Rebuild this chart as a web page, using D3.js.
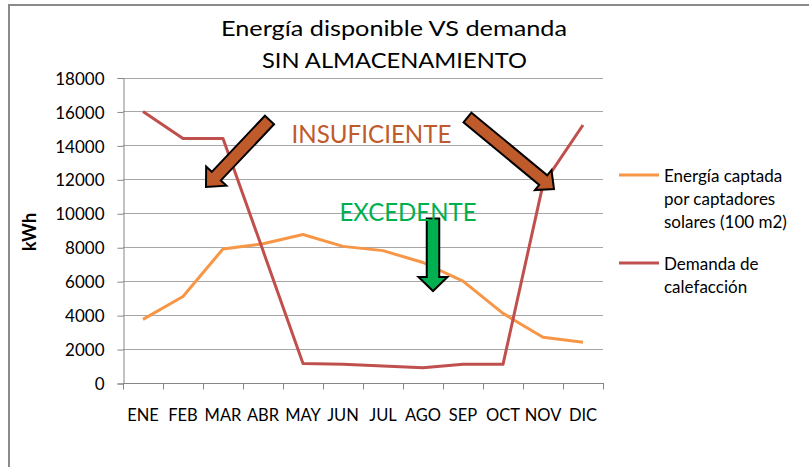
<!DOCTYPE html>
<html>
<head>
<meta charset="utf-8">
<script src="https://cdn.jsdelivr.net/npm/d3@7"></script>
<style>
  body { margin: 0; background: #fff; }
  svg text { font-family: Lato, "Open Sans", sans-serif; fill: #000; }
</style>
</head>
<body>
<div id="chart"></div>
<script>
const months = ["ENE", "FEB", "MAR", "ABR", "MAY", "JUN", "JUL", "AGO", "SEP", "OCT", "NOV", "DIC"];
const captada = [3750, 5100, 7900, 8200, 8750, 8050, 7800, 7100, 6000, 4100, 2700, 2400];
const demanda = [16000, 14400, 14400, 7800, 1150, 1100, 1000, 900, 1100, 1100, 11700, 15200];
const yTicks = [0, 2000, 4000, 6000, 8000, 10000, 12000, 14000, 16000, 18000];
const seriesNames = [["Energía captada", "por captadores", "solares (100 m2)"], ["Demanda de", "calefacción"]];
const colors = ["#f79646", "#c0504d"];

const W = 809, H = 467;
const plot = { left: 123, right: 603, top: 77.5, bottom: 383 };

const svg = d3.select("#chart")
  .append("svg")
  .attr("width", W)
  .attr("height", H);

// marco del gráfico
svg.append("path")
  .attr("d", `M9,${H} V5 H${W}`)
  .attr("fill", "none")
  .attr("stroke", "#8a8a8a")
  .attr("stroke-width", 2);

const x = d3.scaleBand().domain(months).range([plot.left, plot.right]);
const y = d3.scaleLinear().domain([0, 18000]).range([plot.bottom, plot.top]);
const cx = d => x(d) + x.bandwidth() / 2;

// rejilla
svg.append("g")
  .selectAll("line")
  .data(yTicks.slice(1))
  .enter()
  .append("line")
  .attr("x1", plot.left)
  .attr("x2", plot.right)
  .attr("y1", d => Math.round(y(d)) + 0.5)
  .attr("y2", d => Math.round(y(d)) + 0.5)
  .attr("stroke", "#a6a6a6")
  .attr("stroke-width", 1);

// eje Y
const yAxis = svg.append("g")
  .attr("transform", `translate(${plot.left + 0.5},0.5)`)
  .call(d3.axisLeft(y).tickValues(yTicks).tickSize(6).tickPadding(13).tickFormat(d3.format("d")));
yAxis.select(".domain").attr("stroke", "#868686");
yAxis.selectAll(".tick line").attr("stroke", "#868686");
yAxis.selectAll("text")
  .style("font-size", "17px")
  .attr("font-family", "Lato")
  .attr("dy", "0.36em");

// eje X
const xAxis = svg.append("g")
  .attr("transform", `translate(0,${Math.round(plot.bottom) + 0.5})`);
xAxis.append("line")
  .attr("x1", plot.left).attr("x2", plot.right + 1)
  .attr("stroke", "#868686");
xAxis.selectAll(".tk")
  .data(months.concat(["end"]))
  .enter()
  .append("line")
  .attr("class", "tk")
  .attr("x1", (d, i) => (i < months.length ? x(d) : plot.right) + 0.5)
  .attr("x2", (d, i) => (i < months.length ? x(d) : plot.right) + 0.5)
  .attr("y1", 0)
  .attr("y2", 6)
  .attr("stroke", "#868686");
xAxis.selectAll(".lbl")
  .data(months)
  .enter()
  .append("text")
  .attr("class", "lbl")
  .attr("x", d => cx(d))
  .attr("y", 37)
  .attr("text-anchor", "middle")
  .style("font-size", "16.5px")
  .text(d => d);

// título eje Y
svg.append("text")
  .attr("transform", "translate(36,232) rotate(-90)")
  .attr("text-anchor", "middle")
  .style("font-size", "18px")
  .style("font-weight", "bold")
  .text("kWh");

// título
svg.append("text")
  .attr("x", 394).attr("y", 36)
  .attr("text-anchor", "middle")
  .attr("textLength", 346)
  .attr("lengthAdjust", "spacingAndGlyphs")
  .style("font-size", "22px")
  .text("Energía disponible VS demanda");
svg.append("text")
  .attr("x", 394.5).attr("y", 68)
  .attr("text-anchor", "middle")
  .attr("textLength", 265)
  .attr("lengthAdjust", "spacingAndGlyphs")
  .style("font-size", "22px")
  .text("SIN ALMACENAMIENTO");

// series
const line = d3.line().x((d, i) => cx(months[i])).y(d => y(d));
[captada, demanda].forEach((s, k) => {
  svg.append("path")
    .datum(s)
    .attr("d", line)
    .attr("fill", "none")
    .attr("stroke", colors[k])
    .attr("stroke-width", 3)
    .attr("stroke-linejoin", "round");
});

// leyenda
const legY = [175, 263];
seriesNames.forEach((lines, k) => {
  svg.append("line")
    .attr("x1", 619).attr("x2", 659)
    .attr("y1", legY[k]).attr("y2", legY[k])
    .attr("stroke", colors[k])
    .attr("stroke-width", 3);
  lines.forEach((t, j) => {
    svg.append("text")
      .attr("x", 664)
      .attr("y", legY[k] + 6.5 + j * 23)
      .style("font-size", "17px")
      .text(t);
  });
});

// anotaciones (flechas y textos)
function arrow(x0, y0, x1, y1, shaftW, headW, headL, fill) {
  const len = Math.hypot(x1 - x0, y1 - y0);
  const ang = Math.atan2(y1 - y0, x1 - x0) * 180 / Math.PI;
  const s = shaftW / 2, h = headW / 2, b = len - headL;
  const pts = [[0, -s], [b, -s], [b, -h], [len, 0], [b, h], [b, s], [0, s]];
  svg.append("polygon")
    .attr("points", pts.map(p => p.join(",")).join(" "))
    .attr("transform", `translate(${x0},${y0}) rotate(${ang})`)
    .attr("fill", fill)
    .attr("stroke", "#000")
    .attr("stroke-width", 2)
    .attr("stroke-linejoin", "miter");
}
const brown = "#bf5a2b";
const green = "#00b050";
arrow(269.5, 120, 206, 187, 12.5, 28, 15, brown);
arrow(467.5, 117.5, 554, 189, 12.5, 26, 14, brown);
arrow(433, 218.5, 433, 291, 12.5, 29, 14, green);

svg.append("text")
  .attr("x", 291.5).attr("y", 143)
  .attr("textLength", 160)
  .attr("lengthAdjust", "spacingAndGlyphs")
  .style("font-size", "25px")
  .style("fill", brown)
  .text("INSUFICIENTE");
svg.append("text")
  .attr("x", 339.5).attr("y", 221)
  .attr("textLength", 137)
  .attr("lengthAdjust", "spacingAndGlyphs")
  .style("font-size", "25px")
  .style("fill", green)
  .text("EXCEDENTE");
</script>
</body>
</html>
